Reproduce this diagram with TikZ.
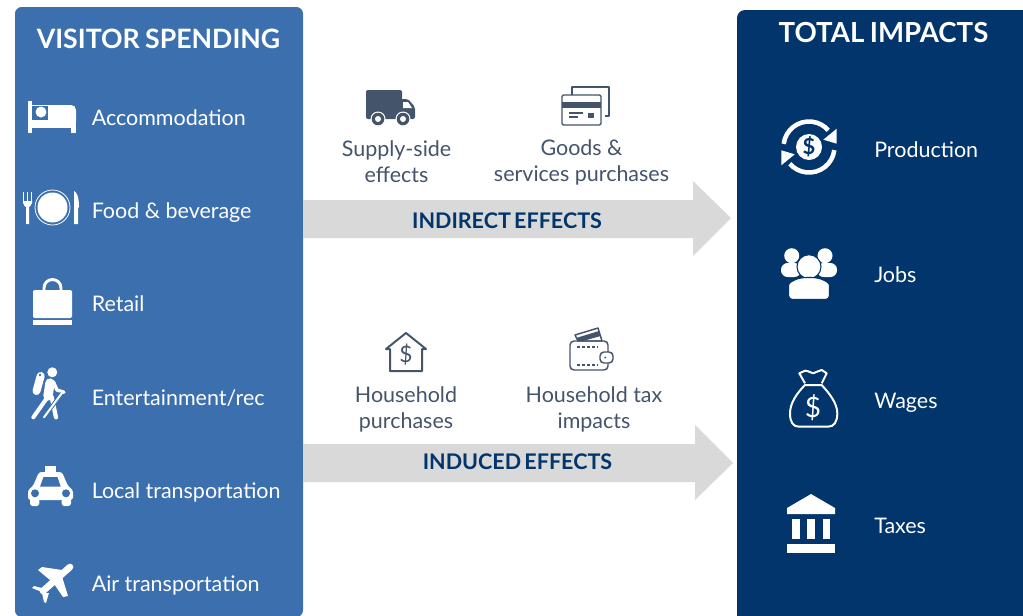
\documentclass[tikz,border=0pt]{standalone}
\usepackage{fontspec}
\setmainfont{Lato}
\definecolor{spendblue}{HTML}{3B6FAD}
\definecolor{impactblue}{HTML}{01356B}
\definecolor{arrowgrey}{HTML}{D9D9D9}
\definecolor{slatetext}{HTML}{44546A}
\tikzset{
  paneltitle/.style={text=white, font=\fontsize{20.7}{24}\selectfont\bfseries},
  itemlabel/.style={text=white, anchor=base west, inner sep=0pt, font=\fontsize{16.1}{19}\selectfont},
  midlabel/.style={text=slatetext, align=center, font=\fontsize{16.1}{19.5}\selectfont},
  arrowlabel/.style={text=impactblue, font=\fontsize{16.15}{18}\selectfont\bfseries},
}
\tikzset{%
  bedicon/.pic={%
    \fill[white] (-24,-16) rectangle (-20,16);
    \fill[white] (-24,3) rectangle (24,11);
    \fill[white] (19,11) rectangle (24,16);
    \fill[white] (-4,5) -- (-4,-12) -- (19,-12) .. controls (22,-12) and (24,-10) .. (24,-7) -- (24,5) -- cycle;
    \draw[white,line width=0.6pt] (-20,-11.5) -- (-4,-11.5);
    \fill[white] (-11,-5) circle (5.5);
  },
  plateicon/.pic={%
    % fork
    \foreach \tx in {-26.5,-22.5,-18.5} {\draw[white,line width=0.7pt] (\tx,-16) -- (\tx,-6);}
    \fill[white] (-27,-7) -- (-18,-7) -- (-18,-5) .. controls (-18,-2) and (-21,-2) .. (-21,-1) -- (-21,16) -- (-24,16) -- (-24,-1) .. controls (-24,-2) and (-27,-2) .. (-27,-5) -- cycle;
    % plate
    \draw[white,line width=0.6pt] (2.5,-0.5) circle (17.5);
    \fill[white] (2.5,-0.5) circle (15);
    % knife
    \fill[white] (24,-17) .. controls (27,-16) and (29,-10) .. (29,-1) -- (28,0) -- (28,16) -- (24,16) -- cycle;
  },
  bagicon/.pic={%
    \draw[white,line width=2.2pt] (-8,-10) -- (-8,-15) arc (180:360:8.5) -- (9,-10);
    \fill[white,rounded corners=1pt] (-19,-13) rectangle (20,15);
    \fill[white] (-19,17) rectangle (20,22);
  },
  hikericon/.pic={%
    \fill[white] (4.3,-20.7) circle (5);
    \draw[white,line width=6pt,line cap=round] (-7.3,-17) -- (-11.5,-2);
    \fill[spendblue] (-8,-18) circle (1.3);
    \draw[white,line width=7pt,line cap=round] (2,-10) -- (0,3);
    \draw[white,line width=3pt,line cap=round] (-1.3,5.3) -- (-14.7,24.3);
    \draw[white,line width=3.2pt,line cap=round] (3.7,4) -- (8,24.3);
    \draw[white,line width=2.6pt,line cap=round,line join=round] (5.3,-11.3) -- (9,-3) -- (16,-0.7);
    \draw[spendblue,line width=3pt] (13.7,0.3) -- (-4,24.3);
    \draw[white,line width=1.5pt,line cap=round] (13.7,0.3) -- (-4,24.3);
  },
  taxiicon/.pic={%
    \fill[white] (-5.5,-20) rectangle (5.5,-13);
    \fill[white,rounded corners=2pt] (-11.5,-14) -- (11.5,-14) -- (17.5,0) -- (22.5,4) -- (22.5,14) -- (-22.5,14) -- (-22.5,4) -- (-17.5,0) -- cycle;
    \fill[spendblue] (-7,-9) -- (7,-9) -- (10.2,0.7) -- (-10.5,0.7) -- cycle;
    \fill[spendblue] (-15.5,7.3) circle (4);
    \fill[spendblue] (15.5,7.3) circle (4);
    \fill[white,rounded corners=2pt] (-20.5,12) rectangle (-11.2,20);
    \fill[white,rounded corners=2pt] (11.2,12) rectangle (20.5,20);
  },
  planeicon/.pic={%
    \draw[white,line width=5pt,line cap=round] (18,-17) -- (-9,7);
    \fill[white] (-14,-14) -- (-10,-17) -- (10,-14) -- (-2,-4) -- cycle;
    \fill[white] (8,-14) -- (16,12) -- (11,13) -- (-2,-6) -- cycle;
    \fill[white] (-20,4) -- (-18,2) -- (-6,5) -- (-10,8) -- cycle;
    \fill[white] (-3,9) -- (-6,19) -- (-8,18) -- (-10,9) -- cycle;
  },
  truckicon/.pic={%
    \fill[slatetext,rounded corners=1.5pt] (-24,-17) rectangle (12,12);
    \fill[slatetext,rounded corners=1.5pt] (11,-8) -- (18,-8) -- (25,0) -- (25,12) -- (11,12) -- cycle;
    \fill[white] (13,-5) -- (18,-5) -- (22,1) -- (13,1) -- cycle;
    \foreach \wx in {-12,13} {
      \fill[white] (\wx,12) circle (7.5);
      \fill[slatetext] (\wx,12) circle (6.3);
      \fill[white] (\wx,12) circle (3);
    }
  },
  cardsicon/.pic={%
    \draw[slatetext,line width=1.1pt,line join=round] (-13,-11) -- (-13,-19) -- (24,-19) -- (24,10) -- (20,10);
    \draw[slatetext,line width=1.1pt,rounded corners=1pt] (-23,-11) rectangle (16,19);
    \fill[slatetext] (-23,-4) rectangle (16,2);
    \draw[slatetext,line width=0.9pt] (-16,7) -- (-2,7);
    \draw[slatetext,line width=0.9pt] (-16,11) -- (-7,11);
    \fill[slatetext] (3,7) rectangle (9,12);
  },
  houseicon/.pic={%
    \draw[slatetext,line width=1.5pt,line join=round] (0,-19) -- (20,-3) -- (16,-3) -- (16,19) -- (-16,19) -- (-16,-3) -- (-20,-3) -- cycle;
    \node[text=slatetext,font=\fontsize{17}{17}\selectfont] (-house-dollar) at (0,2.5) {\$};
  },
  walleticon/.pic={%
    \draw[slatetext,line width=1.1pt,fill=white,line join=round] (-16,-14) -- (7,-21) -- (11,-8) -- (-13,-8) -- cycle;
    \fill[slatetext] (-15,-11) -- (8,-18) -- (9.5,-13) -- (-8,-8) -- (-13,-8) -- cycle;
    \draw[slatetext,line width=1.1pt,rounded corners=3pt] (-21,-8) rectangle (17,21);
    \draw[slatetext,line width=1pt,dash pattern=on 2.2pt off 1.6pt] (-14,-2) -- (7,-2);
    \draw[slatetext,line width=1pt,dash pattern=on 2.2pt off 1.6pt] (-14,16) -- (7,16);
    \draw[slatetext,line width=1.1pt,fill=white,rounded corners=3pt] (9,3) rectangle (22,14);
    \fill[slatetext] (14,8.5) circle (1);
  },
  cycleicon/.pic={%
    \draw[white,line width=3.4pt] (187:25.5) arc (187:319:25.5);
    \fill[white] (27.7,-18.3) -- (14.3,-7.3) -- (27.7,-3.3) -- cycle;
    \draw[white,line width=3.4pt] (7:25.5) arc (7:139:25.5);
    \fill[white] (-27.7,18.3) -- (-14.3,7.3) -- (-27.7,3.3) -- cycle;
    \fill[white] (0,0) circle (13);
    \node[text=impactblue,font=\fontsize{16.5}{16.5}\selectfont\bfseries] (-cycle-dollar) at (0,0) {\$};
  },
  peopleicon/.pic={%
    \fill[white] (-17.3,-21.3) circle (7.5);
    \fill[white] (16,-21.3) circle (7.5);
    \fill[white,rounded corners=5pt] (-28,-14) rectangle (-8,0);
    \fill[white,rounded corners=5pt] (8,-14) rectangle (28,0);
    \draw[impactblue,line width=0.8pt,fill=white] (0,-10.3) circle (12);
    \draw[impactblue,line width=0.8pt,fill=white,rounded corners=3pt] (-20.5,22.5) -- (-20.5,12) .. controls (-20.5,5) and (-12,2) .. (-7,0.5) -- (7,0.5) .. controls (12,2) and (20.5,5) .. (20.5,12) -- (20.5,22.5) -- cycle;
  },
  moneyicon/.pic={%
    \draw[white,line width=1.5pt,line join=round] (-8,-12) .. controls (-16,-4) and (-23,6) .. (-23,16.3) .. controls (-23,25) and (-20,29.7) .. (-14,29.7) -- (15,29.7) .. controls (21,29.7) and (24.3,25) .. (24.3,16.3) .. controls (24.3,6) and (16,-4) .. (8.7,-12) -- cycle;
    \draw[white,line width=1.5pt,line join=round] (-8,-13.7) -- (-13.7,-23.7) -- (-8,-26.3) .. controls (-4,-26.3) and (-2,-23.7) .. (0.3,-23.7) .. controls (3,-23.7) and (5,-27) .. (8.7,-27) -- (13.7,-23.7) -- (8.7,-13.7);
    \node[text=white,font=\fontsize{21}{21}\selectfont] (-money-dollar) at (0,11) {\$};
  },
  bankicon/.pic={%
    \fill[white] (-24,-16) -- (0,-30) -- (24,-16) -- (24,-10) -- (-24,-10) -- cycle;
    \fill[white] (-19,-5) rectangle (-11,15);
    \fill[white] (-4,-5) rectangle (4,15);
    \fill[white] (12,-5) rectangle (19,15);
    \fill[white] (-24,20) rectangle (24,29);
  },
}

\begin{document}
\begin{tikzpicture}[x=0.75pt,y=-0.75pt]

  \useasboundingbox (0,0) rectangle (1023,615);
  \clip (0,0) rectangle (1023,615);

  % the two side panels
  \fill[spendblue,rounded corners=5pt] (15,7) rectangle (303,617);
  \fill[impactblue,rounded corners=6pt] (737,10) rectangle (1045,640);

  % grey block arrows
  \coordinate (indirectTip) at (731,218);
  \coordinate (inducedTip) at (733,463);
  \fill[arrowgrey] (303,200) -- (693,200) -- (693,181) -- (indirectTip) -- (693,256) -- (693,238) -- (303,238) -- cycle;
  \fill[arrowgrey] (303,444) -- (695,444) -- (695,425) -- (inducedTip) -- (695,500) -- (695,482) -- (303,482) -- cycle;

  \node[arrowlabel] (indirect) at (507,220.5) {INDIRECT\hspace{0.15em}EFFECTS};
  \node[arrowlabel] (induced) at (517.5,461.5) {INDUCED\hspace{0.15em}EFFECTS};

  % titles
  \node[paneltitle,font=\fontsize{20}{24}\selectfont\bfseries] (spending) at (158.5,39) {VISITOR\hspace{0.2em}SPENDING};
  \node[paneltitle] (total) at (883.5,33) {TOTAL\hspace{0.2em}IMPACTS};

  % visitor spending column
  \node[itemlabel] (accommodation) at (91.5,125) {Accommodation};
  \node[itemlabel] (food) at (91.5,218) {Food \& beverage};
  \node[itemlabel] (retail) at (91.5,311) {Retail};
  \node[itemlabel] (entertainment) at (91.5,405) {Entertainment/rec};
  \node[itemlabel] (local) at (91.5,498) {Local transportation};
  \node[itemlabel] (air) at (91.5,591) {Air transportation};

  \pic at (52,117) {bedicon};
  \pic at (50,208) {plateicon};
  \pic at (52,303) {bagicon};
  \pic at (48,393) {hikericon};
  \pic at (50.5,486) {taxiicon};
  \pic at (52,584) {planeicon};

  % middle labels with their icons
  \node[midlabel] (supply) at (396.5,162) {Supply-side\\effects};
  \node[midlabel] (goods) at (581.5,162) {Goods \&\\services purchases};
  \node[midlabel] (purchases) at (406,409) {Household\\purchases};
  \node[midlabel] (tax) at (594,409) {Household tax\\impacts};

  \pic at (390,107) {truckicon};
  \pic at (585,106) {cardsicon};
  \pic at (406,352) {houseicon};
  \pic at (591,349) {walleticon};

  % total impacts column
  \node[itemlabel] (production) at (874,157) {Production};
  \node[itemlabel] (jobs) at (874,282) {Jobs};
  \node[itemlabel] (wages) at (874,408) {Wages};
  \node[itemlabel] (taxes) at (874,533) {Taxes};

  \pic at (809,147) {cycleicon};
  \pic at (809,277) {peopleicon};
  \pic at (813,397) {moneyicon};
  \pic at (811,524) {bankicon};

\end{tikzpicture}
\end{document}
